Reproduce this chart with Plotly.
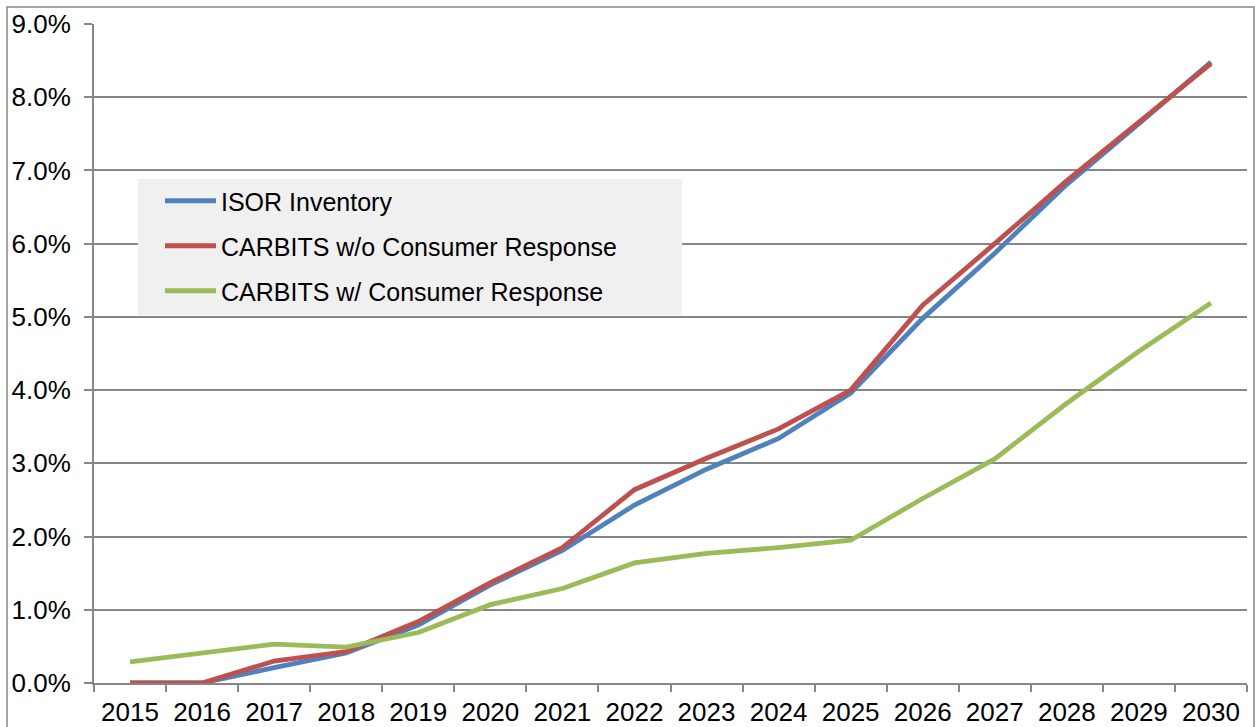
import plotly.graph_objects as go

# Years on the category axis
years = [str(y) for y in range(2015, 2031)]

# Share of sales by scenario (fraction)
isor_inventory = [0.0000, 0.0000, 0.0021, 0.0041, 0.0079, 0.0134, 0.0181, 0.0243, 0.0292,
                  0.0334, 0.0396, 0.0498, 0.0587, 0.0681, 0.0764, 0.0848]
carbits_no_response = [0.0000, 0.0000, 0.0030, 0.0043, 0.0084, 0.0137, 0.0185, 0.0264, 0.0307,
                       0.0347, 0.0400, 0.0516, 0.0600, 0.0686, 0.0766, 0.0846]
carbits_with_response = [0.0029, 0.0041, 0.0053, 0.0049, 0.0069, 0.0107, 0.0129, 0.0164, 0.0177,
                         0.0185, 0.0195, 0.0252, 0.0306, 0.0382, 0.0453, 0.0519]

series_names = ["ISOR Inventory", "CARBITS w/o Consumer Response", "CARBITS w/ Consumer Response"]
series_values = [isor_inventory, carbits_no_response, carbits_with_response]
series_colors = ["#4F81BD", "#C0504D", "#9BBB59"]

W, H = 1255, 727
ML, MR, MT, MB = 94, 8, 24, 44
PW, PH = W - ML - MR, H - MT - MB
FONT = "Arial, Liberation Sans, sans-serif"
GREY = "#868686"


def px_x(x):
    return (x - ML) / PW


def px_y(y):
    return (H - MB - y) / PH


fig = go.Figure()
for i, (name, vals, col) in enumerate(zip(series_names, series_values, series_colors)):
    fig.add_trace(go.Scatter(
        x=years, y=vals, name=name, mode="lines",
        line=dict(color=col, width=4.8),
        legendgroup=f"g{i}",
        hoverinfo="skip",
    ))

shapes = [
    # outer chart border
    dict(type="rect", xref="paper", yref="paper",
         x0=px_x(7), x1=px_x(1254), y0=px_y(740), y1=px_y(7),
         line=dict(color=GREY, width=1.5), fillcolor="rgba(0,0,0,0)", layer="below"),
    # legend panel
    dict(type="rect", xref="paper", yref="paper",
         x0=px_x(138), x1=px_x(682), y0=px_y(315), y1=px_y(179),
         line=dict(width=0), fillcolor="#F0F0F0", layer="above"),
]

fig.update_layout(
    width=W, height=H,
    margin=dict(l=ML, r=MR, t=MT, b=MB, pad=0, autoexpand=False),
    paper_bgcolor="white", plot_bgcolor="white",
    font=dict(family=FONT, size=25, color="black"),
    shapes=shapes,
    showlegend=True,
    legend=dict(
        x=px_x(160), y=px_y(178), xanchor="left", yanchor="top",
        bgcolor="rgba(0,0,0,0)", borderwidth=0,
        font=dict(family=FONT, size=25, color="black"),
        itemwidth=51, tracegroupgap=9.5, traceorder="grouped",
    ),
    xaxis=dict(
        type="category", range=[-0.5, 15.5], automargin=False,
        tickson="boundaries", ticks="outside", ticklen=7, tickwidth=2, tickcolor=GREY,
        showline=True, linecolor=GREY, linewidth=2,
        showgrid=False, zeroline=False,
        tickfont=dict(family=FONT, size=26, color="black"),
        ticklabelstandoff=5,
    ),
    yaxis=dict(
        range=[0, 0.09], dtick=0.01, tickformat=".1%", automargin=False,
        ticks="outside", ticklen=8, tickwidth=2, tickcolor=GREY,
        showline=True, linecolor=GREY, linewidth=2,
        showgrid=True, gridcolor=GREY, gridwidth=2,
        zeroline=False,
        tickfont=dict(family=FONT, size=26, color="black"),
        ticklabelstandoff=8,
    ),
)

fig.write_html("out.html")
